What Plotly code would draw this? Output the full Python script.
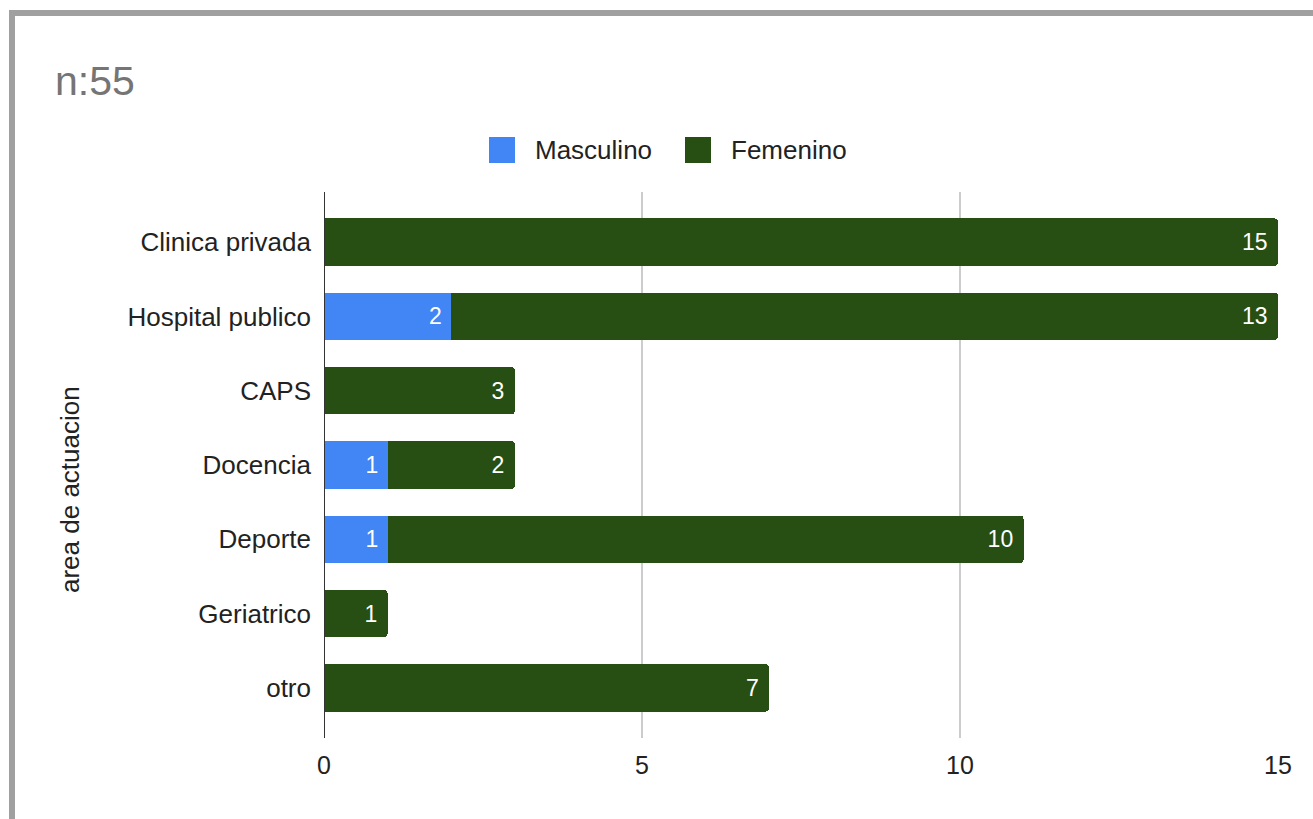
import plotly.graph_objects as go

# Data: area of work, split by sex
areas = ["Clinica privada", "Hospital publico", "CAPS", "Docencia",
         "Deporte", "Geriatrico", "otro"]
masculino = [None, 2, None, 1, 1, None, None]
femenino = [15, 13, 3, 2, 10, 1, 7]
x_ticks = [0, 5, 10, 15]

W, H = 1313, 819
L, R, T, B = 324, 1278, 192, 738  # plot area in pixels

BLUE = "#4285f4"
GREEN = "#274e13"
FONT = "Liberation Sans, Arial, sans-serif"


def px(xp):
    return (xp - L) / (R - L)


def py(yp):
    return (B - yp) / (B - T)


fig = go.Figure()
fig.add_trace(go.Bar(
    y=areas, x=masculino, orientation="h", name="Masculino",
    marker=dict(color=BLUE, line=dict(width=0)),
    texttemplate="%{x}\u00a0", textposition="inside", insidetextanchor="end",
    textfont=dict(color="white", size=23, family=FONT),
    constraintext="none", showlegend=False,
))
fig.add_trace(go.Bar(
    y=areas, x=femenino, orientation="h", name="Femenino",
    marker=dict(color=GREEN, line=dict(width=0)),
    texttemplate="%{x}\u00a0", textposition="inside", insidetextanchor="end",
    textfont=dict(color="white", size=23, family=FONT),
    constraintext="none", showlegend=False,
))

shapes = []
annotations = []

# Frame lines on the left and top edges
shapes.append(dict(type="rect", xref="paper", yref="paper",
                   x0=px(9), x1=px(15), y0=py(10), y1=py(840),
                   fillcolor="#a0a0a0", line=dict(width=0), layer="above"))
shapes.append(dict(type="rect", xref="paper", yref="paper",
                   x0=px(9), x1=px(1330), y0=py(10), y1=py(16),
                   fillcolor="#a0a0a0", line=dict(width=0), layer="above"))

# Custom legend
legend_items = [("Masculino", BLUE, 489, 533), ("Femenino", GREEN, 685, 729)]
for label, color, sx, tx in legend_items:
    shapes.append(dict(type="rect", xref="paper", yref="paper",
                       x0=px(sx), x1=px(sx + 26), y0=py(137), y1=py(163),
                       fillcolor=color, line=dict(width=0)))
    annotations.append(dict(text=label, xref="paper", yref="paper",
                            x=px(tx), y=py(150), xanchor="left", yanchor="middle",
                            showarrow=False,
                            font=dict(size=26, color="#222222", family=FONT)))

# Title
annotations.append(dict(text="n:55", xref="paper", yref="paper",
                        x=px(53), y=py(81), xanchor="left", yanchor="middle",
                        showarrow=False,
                        font=dict(size=41, color="#757575", family=FONT)))

# Y axis title
annotations.append(dict(text="area de actuacion", xref="paper", yref="paper",
                        x=px(70), y=py(490), xanchor="center", yanchor="middle",
                        textangle=-90, showarrow=False,
                        font=dict(size=26, color="#222222", family=FONT)))

fig.update_layout(
    width=W, height=H,
    margin=dict(l=L, r=W - R, t=T, b=H - B),
    paper_bgcolor="white", plot_bgcolor="white",
    barmode="stack", bargap=0.36, barcornerradius=4,
    showlegend=False,
    shapes=shapes, annotations=annotations,
    xaxis=dict(range=[0, 15], tickvals=x_ticks, ticktext=[str(v) for v in x_ticks],
               showgrid=True, gridcolor="#cccccc", gridwidth=2,
               zeroline=False, showline=False, ticks="", ticklabelstandoff=10,
               tickfont=dict(size=25, color="#222222", family=FONT)),
    yaxis=dict(categoryorder="array", categoryarray=areas,
               range=[6.675, -0.675], showgrid=False, zeroline=False,
               showline=False, ticks="", ticklabelstandoff=12,
               tickfont=dict(size=26, color="#222222", family=FONT)),
)

# Dark baseline at x = 0
fig.add_shape(type="line", xref="x", yref="paper", x0=0, x1=0, y0=0, y1=1,
              line=dict(color="#333333", width=2), layer="above")

fig.write_html("out.html")
